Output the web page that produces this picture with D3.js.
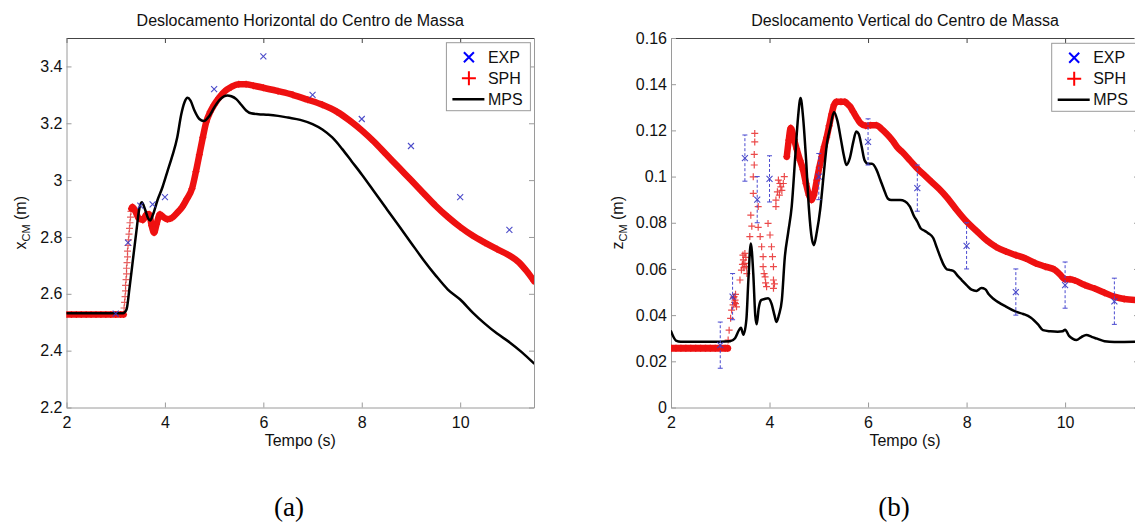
<!DOCTYPE html>
<html><head><meta charset="utf-8">
<script src="https://cdn.jsdelivr.net/npm/d3@7"></script>
<style>
body{margin:0;background:#fff;}
svg{display:block;font-family:"Liberation Sans",Arial,sans-serif;}
</style>
</head><body>
<svg id="c" width="1135" height="524"></svg>
<script>
// ---------- DATA ----------
var xTicks = [2, 4, 6, 8, 10];
var xTickLabels = ["2", "4", "6", "8", "10"];
var yTicksA = [2.2, 2.4, 2.6, 2.8, 3.0, 3.2, 3.4];
var yTickLabelsA = ["2.2", "2.4", "2.6", "2.8", "3", "3.2", "3.4"];
var yTicksB = [0, 0.02, 0.04, 0.06, 0.08, 0.1, 0.12, 0.14, 0.16];
var yTickLabelsB = ["0", "0.02", "0.04", "0.06", "0.08", "0.1", "0.12", "0.14", "0.16"];
var legendLabels = ["EXP", "SPH", "MPS"];

// experiment (both panels)
var expTime = [3, 3.25, 3.5, 3.75, 4, 5, 6, 7, 8, 9, 10, 11];
var expX = [2.53, 2.78, 2.91, 2.915, 2.94, 3.32, 3.435, 3.30, 3.215, 3.12, 2.94, 2.825];
var expZ = [0.027, 0.048, 0.108, 0.09, 0.099, 0.1, 0.115, 0.095, 0.07, 0.05, 0.053, 0.046];
var expZErr = [0.01, 0.01, 0.01, 0.01, 0.01, 0.01, 0.01, 0.01, 0.01, 0.01, 0.01, 0.01];

// SPH horizontal: plateau, sparse rise markers, main band
var sphXStartTime = [2, 2.1, 2.2, 2.3, 2.4, 2.5, 2.6, 2.7, 2.8, 2.9, 3, 3.1, 3.16];
var sphXStartVal = [2.527, 2.527, 2.527, 2.527, 2.527, 2.527, 2.527, 2.527, 2.527, 2.527, 2.527, 2.527, 2.527];
var sphXRiseTime = [3.17, 3.18, 3.19, 3.2, 3.2, 3.21, 3.22, 3.22, 3.23, 3.24, 3.24, 3.25, 3.26, 3.27, 3.28, 3.29, 3.3, 3.31];
var sphXRiseVal = [2.55, 2.57, 2.59, 2.61, 2.63, 2.65, 2.67, 2.69, 2.71, 2.73, 2.75, 2.77, 2.79, 2.81, 2.83, 2.85, 2.87, 2.89];
var sphXTime = [3.32, 3.34, 3.4, 3.47, 3.55, 3.63, 3.68, 3.73, 3.78, 3.83, 3.9, 3.97, 4.05, 4.15, 4.25, 4.35, 4.45, 4.55, 4.63, 4.7, 4.77, 4.84, 4.92, 5.0, 5.1, 5.2, 5.35, 5.5, 5.65, 5.8, 6.0, 6.3, 6.6, 6.9, 7.2, 7.5, 7.75, 8.0, 8.25, 8.5, 8.75, 9.0, 9.25, 9.5, 9.75, 10.0, 10.25, 10.5, 10.75, 11.0, 11.2, 11.35, 11.5];
var sphXVal = [2.9, 2.905, 2.89, 2.865, 2.86, 2.88, 2.88, 2.84, 2.815, 2.845, 2.88, 2.87, 2.862, 2.868, 2.885, 2.905, 2.935, 2.97, 3.03, 3.09, 3.15, 3.205, 3.24, 3.265, 3.29, 3.31, 3.328, 3.337, 3.337, 3.332, 3.325, 3.313, 3.3, 3.283, 3.265, 3.24, 3.21, 3.175, 3.135, 3.09, 3.045, 3.0, 2.955, 2.91, 2.87, 2.835, 2.805, 2.78, 2.757, 2.735, 2.71, 2.68, 2.645];

// MPS horizontal
var mpsXTime = [2, 3.15, 3.22, 3.28, 3.35, 3.42, 3.48, 3.53, 3.6, 3.66, 3.7, 3.76, 3.85, 3.95, 4.05, 4.15, 4.25, 4.33, 4.4, 4.46, 4.52, 4.6, 4.7, 4.79, 4.9, 5.0, 5.1, 5.2, 5.27, 5.35, 5.45, 5.55, 5.65, 5.75, 5.9, 6.1, 6.3, 6.5, 6.75, 7.0, 7.2, 7.4, 7.6, 7.8, 8.0, 8.25, 8.5, 8.75, 9.0, 9.25, 9.5, 9.75, 10.0, 10.25, 10.5, 10.75, 11.0, 11.25, 11.5];
var mpsXVal = [2.532, 2.532, 2.545, 2.62, 2.72, 2.82, 2.9, 2.922, 2.895, 2.865, 2.858, 2.88, 2.93, 2.975, 3.03, 3.085, 3.15, 3.23, 3.275, 3.29, 3.28, 3.245, 3.215, 3.208, 3.225, 3.255, 3.28, 3.295, 3.298, 3.295, 3.285, 3.265, 3.245, 3.235, 3.232, 3.23, 3.226, 3.22, 3.212, 3.197, 3.178, 3.15, 3.11, 3.065, 3.02, 2.96, 2.9, 2.84, 2.78, 2.72, 2.665, 2.615, 2.58, 2.535, 2.495, 2.46, 2.43, 2.395, 2.355];

// SPH vertical: start plateau, scattered transient, smooth tail
var sphZStartTime = [2, 2.1, 2.2, 2.3, 2.4, 2.5, 2.6, 2.7, 2.8, 2.9, 3, 3.1, 3.15];
var sphZStartVal = [0.0257, 0.0257, 0.0257, 0.0257, 0.0257, 0.0257, 0.0257, 0.0257, 0.0257, 0.0257, 0.0257, 0.0257, 0.0257];
var sphZScatterTime = [3.16, 3.18, 3.21, 3.23, 3.26, 3.27, 3.28, 3.29, 3.3, 3.31, 3.31, 3.33, 3.4, 3.43, 3.45, 3.46, 3.47, 3.48, 3.5, 3.5, 3.52, 3.53, 3.54, 3.6, 3.62, 3.64, 3.67, 3.67, 3.69, 3.69, 3.7, 3.7, 3.77, 3.77, 3.81, 3.84, 3.87, 3.87, 3.89, 3.91, 3.92, 3.94, 3.97, 4.01, 4.04, 4.06, 4.08, 4.08, 4.08, 4.1, 4.13, 4.13, 4.16, 4.18, 4.2, 4.21, 4.23, 4.25, 4.28, 4.3];
var sphZScatterVal = [0.0292, 0.0335, 0.0386, 0.0422, 0.0444, 0.0475, 0.048, 0.0455, 0.0465, 0.045, 0.049, 0.0436, 0.0552, 0.0595, 0.062, 0.066, 0.0639, 0.0605, 0.0667, 0.0624, 0.065, 0.061, 0.058, 0.074, 0.0833, 0.0785, 0.0927, 0.0999, 0.105, 0.1096, 0.115, 0.1187, 0.087, 0.078, 0.074, 0.0696, 0.0653, 0.061, 0.058, 0.0566, 0.054, 0.0523, 0.0797, 0.0747, 0.0696, 0.0653, 0.061, 0.0552, 0.0516, 0.0535, 0.087, 0.0898, 0.0934, 0.0985, 0.092, 0.097, 0.0955, 0.094, 0.097, 0.1];
var sphZTime = [4.35, 4.39, 4.43, 4.5, 4.55, 4.62, 4.68, 4.74, 4.8, 4.85, 4.9, 4.96, 5.01, 5.06, 5.11, 5.16, 5.21, 5.26, 5.31, 5.36, 5.45, 5.53, 5.58, 5.63, 5.7, 5.77, 5.85, 5.95, 6.05, 6.17, 6.28, 6.4, 6.5, 6.6, 6.7, 6.85, 7.0, 7.15, 7.3, 7.45, 7.6, 7.8, 8.0, 8.2, 8.4, 8.6, 8.8, 9.0, 9.2, 9.4, 9.6, 9.8, 9.9, 10.0, 10.1, 10.2, 10.4, 10.6, 10.8, 11.0, 11.2, 11.5];
var sphZVal = [0.1086, 0.1158, 0.121, 0.116, 0.112, 0.107, 0.103, 0.097, 0.092, 0.0898, 0.092, 0.0985, 0.104, 0.1086, 0.113, 0.117, 0.122, 0.127, 0.131, 0.1324, 0.1324, 0.1324, 0.1315, 0.1305, 0.128, 0.1255, 0.123, 0.122, 0.1222, 0.1222, 0.1205, 0.118, 0.1155, 0.1125, 0.1105, 0.107, 0.1035, 0.1005, 0.0975, 0.0945, 0.091, 0.0855, 0.0805, 0.0765, 0.0725, 0.0695, 0.0675, 0.066, 0.0645, 0.0625, 0.061, 0.0595, 0.0575, 0.0555, 0.0555, 0.055, 0.053, 0.0515, 0.0497, 0.048, 0.047, 0.0465];

// MPS vertical
var mpsZTime = [2.0, 2.1, 2.2, 2.6, 3.0, 3.2, 3.3, 3.38, 3.42, 3.47, 3.53, 3.57, 3.62, 3.67, 3.71, 3.74, 3.78, 3.83, 3.9, 3.97, 4.04, 4.1, 4.14, 4.19, 4.25, 4.31, 4.38, 4.45, 4.52, 4.58, 4.63, 4.68, 4.74, 4.8, 4.86, 4.9, 4.96, 5.03, 5.1, 5.17, 5.23, 5.31, 5.38, 5.45, 5.51, 5.56, 5.63, 5.7, 5.76, 5.81, 5.87, 5.93, 6.0, 6.08, 6.17, 6.25, 6.33, 6.4, 6.47, 6.55, 6.65, 6.75, 6.85, 6.93, 7.0, 7.07, 7.15, 7.22, 7.32, 7.4, 7.47, 7.54, 7.6, 7.67, 7.74, 7.82, 7.9, 8.0, 8.1, 8.2, 8.3, 8.38, 8.45, 8.55, 8.65, 8.8, 9.0, 9.15, 9.3, 9.45, 9.55, 9.7, 9.85, 9.95, 10.0, 10.08, 10.15, 10.23, 10.33, 10.43, 10.55, 10.65, 10.8, 11.0, 11.2, 11.5];
var mpsZVal = [0.033, 0.029, 0.0285, 0.0285, 0.0285, 0.0287, 0.030, 0.0335, 0.0345, 0.0315, 0.038, 0.055, 0.071, 0.058, 0.040, 0.036, 0.043, 0.0465, 0.047, 0.0473, 0.045, 0.040, 0.037, 0.04, 0.0465, 0.065, 0.076, 0.087, 0.108, 0.126, 0.134, 0.126, 0.108, 0.086, 0.073, 0.0703, 0.076, 0.086, 0.101, 0.115, 0.121, 0.128, 0.124, 0.116, 0.109, 0.105, 0.108, 0.115, 0.1195, 0.1185, 0.113, 0.107, 0.1055, 0.1055, 0.103, 0.0985, 0.094, 0.0905, 0.0898, 0.0898, 0.0898, 0.0893, 0.087, 0.083, 0.0805, 0.0775, 0.0765, 0.0755, 0.0735, 0.069, 0.065, 0.0615, 0.0598, 0.0595, 0.059, 0.057, 0.0552, 0.053, 0.051, 0.0505, 0.0517, 0.0512, 0.049, 0.047, 0.0455, 0.0437, 0.0415, 0.0405, 0.039, 0.036, 0.0335, 0.033, 0.0328, 0.033, 0.0337, 0.031, 0.0298, 0.0292, 0.0305, 0.0314, 0.0305, 0.0298, 0.0287, 0.0284, 0.0284, 0.0285];

// ---------- DRAWING ----------
var svg = d3.select("#c");
function zip(t, v) { return t.map(function (d, i) { return [d, v[i]]; }); }
var RED = "#ee1111", BLUE = "#3a3ac4";
var xPath = "M-3,-3L3,3M-3,3L3,-3";
var plusPath = "M-3.5,0H3.5M0,-3.5V3.5";
function tr(a, b) { return "translate(" + a + "," + b + ")"; }

function styleAxis(sel, col) {
  sel.select(".domain").attr("stroke", col).attr("stroke-width", 1);
  sel.selectAll(".tick line").attr("stroke", col);
  sel.selectAll(".tick text").attr("fill", "#111").attr("font-size", 16)
    .attr("font-family", "'Liberation Sans', Arial, sans-serif");
}

function panel(cfg) {
  var x = d3.scaleLinear().domain([2, 11.5]).range([cfg.left, cfg.right]);
  var y = d3.scaleLinear().domain(cfg.yDomain).range([cfg.bottom, cfg.top]);
  var g = svg.append("g");
  svg.append("clipPath").attr("id", cfg.id).append("rect")
    .attr("x", cfg.left).attr("y", cfg.top)
    .attr("width", cfg.right - cfg.left).attr("height", cfg.bottom - cfg.top);

  var ax;
  ax = g.append("g").attr("transform", tr(0, cfg.bottom))
    .call(d3.axisBottom(x).tickValues(xTicks).tickFormat(function (d, i) { return xTickLabels[i]; })
      .tickSizeInner(-5).tickSizeOuter(0).tickPadding(9));
  styleAxis(ax, "#9a9a9a");
  ax = g.append("g").attr("transform", tr(0, cfg.top))
    .call(d3.axisTop(x).tickValues(xTicks).tickFormat("").tickSizeInner(-5).tickSizeOuter(0));
  styleAxis(ax, "#444");
  ax = g.append("g").attr("transform", tr(cfg.left, 0))
    .call(d3.axisLeft(y).tickValues(cfg.yTicks).tickFormat(function (d, i) { return cfg.yLabels[i]; })
      .tickSizeInner(-5).tickSizeOuter(0).tickPadding(4));
  styleAxis(ax, "#9a9a9a");
  ax = g.append("g").attr("transform", tr(cfg.right, 0))
    .call(d3.axisRight(y).tickValues(cfg.yTicks).tickFormat("").tickSizeInner(-5).tickSizeOuter(0));
  styleAxis(ax, "#9a9a9a");

  var cx = (cfg.left + cfg.right) / 2;
  svg.append("text").attr("x", cx).attr("y", 26).attr("text-anchor", "middle")
    .attr("font-size", 16).attr("fill", "#111").text(cfg.title);
  svg.append("text").attr("x", cx).attr("y", 446).attr("text-anchor", "middle")
    .attr("font-size", 16).attr("fill", "#111").text("Tempo (s)");
  var yl = svg.append("text").attr("text-anchor", "middle").attr("font-size", 16).attr("fill", "#111")
    .attr("transform", tr(cfg.ylabelX, (cfg.top + cfg.bottom) / 2) + " rotate(-90)");
  yl.append("tspan").text(cfg.ylabelVar);
  yl.append("tspan").attr("font-size", 11).attr("dy", 4).text("CM");
  yl.append("tspan").attr("dy", -4).text(" (m)");
  svg.append("text").attr("x", cfg.capX).attr("y", 516).attr("text-anchor", "middle")
    .attr("font-family", "'Liberation Serif','Times New Roman',serif").attr("font-size", 27)
    .attr("fill", "#000").text(cfg.caption);

  var plot = svg.append("g").attr("clip-path", "url(#" + cfg.id + ")");
  return { x: x, y: y, plot: plot };
}

function drawLine(p, data, color, width) {
  p.plot.append("path").datum(data)
    .attr("fill", "none").attr("stroke", color).attr("stroke-width", width)
    .attr("stroke-linejoin", "round").attr("stroke-linecap", "round")
    .attr("d", d3.line().x(function (d) { return p.x(d[0]); }).y(function (d) { return p.y(d[1]); }).curve(d3.curveMonotoneX));
}
function drawMarks(p, data, path, color, width, op) {
  p.plot.append("g").selectAll("path").data(data).join("path")
    .attr("transform", function (d) { return tr(p.x(d[0]), p.y(d[1])); })
    .attr("d", path).attr("fill", "none").attr("stroke", color)
    .attr("stroke-width", width).attr("opacity", op);
}

function legend(bx, by) {
  var g = svg.append("g").attr("transform", tr(bx, by));
  g.append("rect").attr("width", 84).attr("height", 68).attr("fill", "#fff").attr("stroke", "#9a9a9a");
  var rows = [14.5, 35.5, 56.5];
  g.append("path").attr("transform", tr(22.5, rows[0])).attr("d", "M-5,-5L5,5M-5,5L5,-5")
    .attr("stroke", "#0000ff").attr("stroke-width", 2);
  g.append("path").attr("transform", tr(22.5, rows[1])).attr("d", "M-7,0H7M0,-7V7")
    .attr("stroke", "#ff0000").attr("stroke-width", 2);
  g.append("line").attr("x1", 6).attr("x2", 38).attr("y1", rows[2]).attr("y2", rows[2])
    .attr("stroke", "#000").attr("stroke-width", 2.5);
  legendLabels.forEach(function (t, i) {
    g.append("text").attr("x", 41.5).attr("y", rows[i]).attr("dy", "0.35em")
      .attr("font-size", 16).attr("fill", "#111").text(t);
  });
}

// Panel (a)
var pa = panel({ id: "clipA", left: 66.5, right: 534, top: 38, bottom: 407.5,
  yDomain: [2.2, 3.5], yTicks: yTicksA, yLabels: yTickLabelsA,
  title: "Deslocamento Horizontal do Centro de Massa", ylabelVar: "x", ylabelX: 26, capX: 289, caption: "(a)" });
var sphA0 = zip(sphXStartTime, sphXStartVal);
var sphA1 = zip(sphXTime, sphXVal);
drawLine(pa, sphA0, RED, 6.5);
drawMarks(pa, sphA0, plusPath, RED, 1.3, 0.9);
drawMarks(pa, zip(sphXRiseTime, sphXRiseVal), plusPath, "#e03a3a", 1.2, 0.8);
drawLine(pa, sphA1, RED, 6.5);
drawMarks(pa, sphA1, plusPath, RED, 1.3, 0.9);
drawLine(pa, zip(mpsXTime, mpsXVal), "#000", 2.5);
drawMarks(pa, zip(expTime, expX), xPath, BLUE, 1.1, 0.9);
legend(446.4, 42.7);

// Panel (b)
var pb = panel({ id: "clipB", left: 671, right: 1139, top: 38, bottom: 407.5,
  yDomain: [0, 0.16], yTicks: yTicksB, yLabels: yTickLabelsB,
  title: "Deslocamento Vertical do Centro de Massa", ylabelVar: "z", ylabelX: 623, capX: 894, caption: "(b)" });
var sphB0 = zip(sphZStartTime, sphZStartVal);
var sphB1 = zip(sphZTime, sphZVal);
drawLine(pb, sphB0, RED, 7);
drawMarks(pb, sphB0, plusPath, RED, 1.3, 0.9);
drawLine(pb, sphB1, RED, 6.5);
drawMarks(pb, sphB1, plusPath, RED, 1.3, 0.9);
drawMarks(pb, zip(sphZScatterTime, sphZScatterVal), plusPath, "#e82a2a", 1.2, 0.85);
drawLine(pb, zip(mpsZTime, mpsZVal), "#000", 2.5);
var expB = expTime.map(function (t, i) { return { t: t, v: expZ[i], e: expZErr[i] }; });
var eb = pb.plot.append("g").attr("stroke", "#4a4ad0").attr("stroke-width", 1).attr("fill", "none");
eb.selectAll("line.v").data(expB).join("line").attr("class", "v")
  .attr("x1", function (d) { return pb.x(d.t); }).attr("x2", function (d) { return pb.x(d.t); })
  .attr("y1", function (d) { return pb.y(d.v - d.e); }).attr("y2", function (d) { return pb.y(d.v + d.e); })
  .attr("stroke-dasharray", "3,2");
eb.selectAll("line.c1").data(expB).join("line").attr("class", "c1")
  .attr("x1", function (d) { return pb.x(d.t) - 2.5; }).attr("x2", function (d) { return pb.x(d.t) + 2.5; })
  .attr("y1", function (d) { return pb.y(d.v - d.e); }).attr("y2", function (d) { return pb.y(d.v - d.e); });
eb.selectAll("line.c2").data(expB).join("line").attr("class", "c2")
  .attr("x1", function (d) { return pb.x(d.t) - 2.5; }).attr("x2", function (d) { return pb.x(d.t) + 2.5; })
  .attr("y1", function (d) { return pb.y(d.v + d.e); }).attr("y2", function (d) { return pb.y(d.v + d.e); });
drawMarks(pb, zip(expTime, expZ), xPath, BLUE, 1.1, 0.9);
legend(1051.7, 43.3);
</script>
</body></html>
